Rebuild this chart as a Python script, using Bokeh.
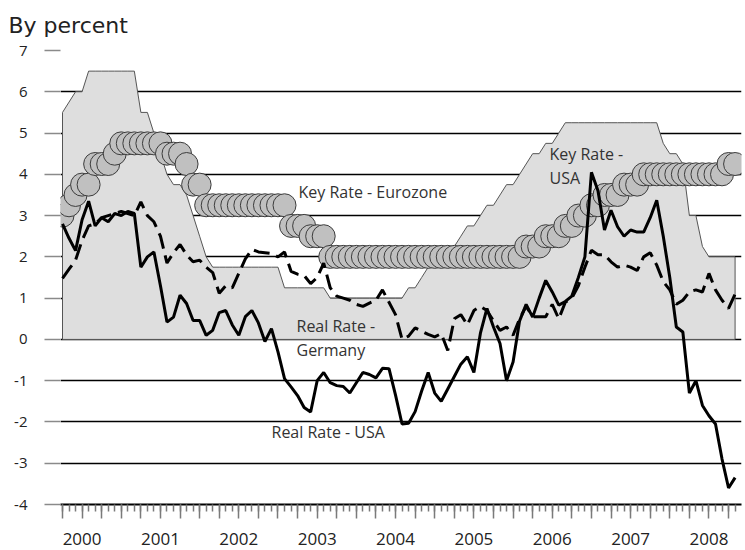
from bokeh.plotting import figure
from bokeh.models import Range1d, FixedTicker, Label
from bokeh.embed import file_html
from bokeh.resources import INLINE

# ---------------- data (monthly, Jan 2000 .. Aug 2008) ----------------
years = ["2000", "2001", "2002", "2003", "2004", "2005", "2006", "2007", "2008"]

key_rate_usa = [
    5.5, 5.75, 6.0, 6.0, 6.5, 6.5, 6.5, 6.5, 6.5, 6.5, 6.5, 6.5,            # 2000
    5.5, 5.5, 5.0, 4.5, 4.0, 3.75, 3.75, 3.5, 3.0, 2.5, 2.0, 1.75,          # 2001
    1.75, 1.75, 1.75, 1.75, 1.75, 1.75, 1.75, 1.75, 1.75, 1.75, 1.25, 1.25, # 2002
    1.25, 1.25, 1.25, 1.25, 1.25, 1.0, 1.0, 1.0, 1.0, 1.0, 1.0, 1.0,        # 2003
    1.0, 1.0, 1.0, 1.0, 1.0, 1.25, 1.25, 1.5, 1.75, 1.75, 2.0, 2.25,        # 2004
    2.25, 2.5, 2.75, 2.75, 3.0, 3.25, 3.25, 3.5, 3.75, 3.75, 4.0, 4.25,     # 2005
    4.5, 4.5, 4.75, 4.75, 5.0, 5.25, 5.25, 5.25, 5.25, 5.25, 5.25, 5.25,    # 2006
    5.25, 5.25, 5.25, 5.25, 5.25, 5.25, 5.25, 5.25, 4.75, 4.5, 4.5, 4.25,   # 2007
    3.0, 3.0, 2.25, 2.0, 2.0, 2.0, 2.0, 2.0,                                # 2008
]

key_rate_eurozone = [
    3.0, 3.25, 3.5, 3.75, 3.75, 4.25, 4.25, 4.25, 4.5, 4.75, 4.75, 4.75,    # 2000
    4.75, 4.75, 4.75, 4.75, 4.5, 4.5, 4.5, 4.25, 3.75, 3.75, 3.25, 3.25,    # 2001
    3.25, 3.25, 3.25, 3.25, 3.25, 3.25, 3.25, 3.25, 3.25, 3.25, 3.25, 2.75, # 2002
    2.75, 2.75, 2.5, 2.5, 2.5, 2.0, 2.0, 2.0, 2.0, 2.0, 2.0, 2.0,           # 2003
    2.0, 2.0, 2.0, 2.0, 2.0, 2.0, 2.0, 2.0, 2.0, 2.0, 2.0, 2.0,             # 2004
    2.0, 2.0, 2.0, 2.0, 2.0, 2.0, 2.0, 2.0, 2.0, 2.0, 2.0, 2.25,            # 2005
    2.25, 2.25, 2.5, 2.5, 2.5, 2.75, 2.75, 3.0, 3.0, 3.25, 3.25, 3.5,       # 2006
    3.5, 3.5, 3.75, 3.75, 3.75, 4.0, 4.0, 4.0, 4.0, 4.0, 4.0, 4.0,          # 2007
    4.0, 4.0, 4.0, 4.0, 4.0, 4.0, 4.25, 4.25,                               # 2008
]

real_rate_usa = [
    2.8, 2.45, 2.15, 2.9, 3.35, 2.75, 2.95, 2.85, 3.05, 3.0, 3.1, 3.05,         # 2000
    1.75, 2.0, 2.12, 1.3, 0.42, 0.54, 1.07, 0.87, 0.46, 0.46, 0.1, 0.22,        # 2001
    0.65, 0.7, 0.35, 0.1, 0.55, 0.7, 0.4, -0.05, 0.26, -0.3, -0.95, -1.15,      # 2002
    -1.36, -1.65, -1.76, -1.0, -0.8, -1.05, -1.12, -1.14, -1.3, -1.05, -0.8, -0.85,  # 2003
    -0.93, -0.7, -0.71, -1.35, -2.05, -2.03, -1.75, -1.25, -0.8, -1.3, -1.5, -1.2,   # 2004
    -0.9, -0.6, -0.42, -0.8, 0.15, 0.75, 0.3, -0.1, -1.0, -0.55, 0.45, 0.85,    # 2005
    0.54, 1.0, 1.43, 1.15, 0.83, 0.92, 1.05, 1.5, 2.0, 4.05, 3.6, 2.65,         # 2006
    3.13, 2.73, 2.5, 2.65, 2.6, 2.6, 2.95, 3.37, 2.5, 1.5, 0.3, 0.18,           # 2007
    -1.3, -1.0, -1.6, -1.85, -2.05, -2.9, -3.6, -3.35,                          # 2008
]

real_rate_germany = [
    1.48, 1.7, 1.92, 2.4, 2.75, 2.8, 2.95, 3.0, 3.05, 3.1, 3.05, 3.0,       # 2000
    3.33, 3.0, 2.85, 2.5, 1.85, 2.1, 2.3, 2.05, 1.88, 1.92, 1.75, 1.62,     # 2001
    1.12, 1.3, 1.25, 1.6, 1.95, 2.18, 2.12, 2.1, 2.08, 2.0, 2.12, 1.65,     # 2002
    1.58, 1.55, 1.35, 1.5, 1.85, 1.25, 1.05, 1.0, 0.95, 0.85, 0.8, 0.88,    # 2003
    0.95, 1.2, 0.9, 0.6, 0.0, 0.08, 0.28, 0.2, 0.12, 0.06, 0.14, -0.27,     # 2004
    0.5, 0.6, 0.35, 0.7, 0.8, 0.7, 0.45, 0.22, 0.3, 0.1, 0.5, 0.8,          # 2005
    0.55, 0.55, 0.55, 0.85, 0.5, 0.9, 1.0, 1.3, 1.75, 2.16, 2.05, 2.05,     # 2006
    1.88, 1.75, 1.8, 1.75, 1.67, 2.0, 2.1, 1.8, 1.4, 1.2, 0.85, 0.95,       # 2007
    1.15, 1.2, 1.15, 1.6, 1.2, 0.95, 0.75, 1.1,                             # 2008
]

y_ticks = [-4, -3, -2, -1, 0, 1, 2, 3, 4, 5, 6, 7]
y_tick_labels = ["-4", "-3", "-2", "-1", "0", "1", "2", "3", "4", "5", "6", "7"]

months = list(range(len(key_rate_usa)))

# ---------------- figure ----------------
PX_PER_MONTH = 6.53
FRAME_L, FRAME_R, FRAME_T, FRAME_B = 60, 741, 50, 504
x0 = -(62 - FRAME_L) / PX_PER_MONTH
p = figure(
    width=745, height=550,
    output_backend="svg", toolbar_location=None,
    x_range=Range1d(x0, x0 + (FRAME_R - FRAME_L) / PX_PER_MONTH),
    y_range=Range1d(-4, 7),
    min_border_left=FRAME_L, min_border_right=745 - FRAME_R,
    min_border_top=FRAME_T, min_border_bottom=550 - FRAME_B,
)
p.outline_line_color = None
p.background_fill_color = "white"
p.border_fill_color = "white"

# title
p.title.text = "By percent"
p.title.align = "left"
p.title.vertical_align = "top"
p.title.offset = -(FRAME_L - 8)
p.title.text_font = "DejaVu Sans"
p.title.text_font_size = "22px"
p.title.text_font_style = "normal"
p.title.text_color = "#222222"
p.title.standoff = 22

# grid
p.xgrid.visible = False
p.ygrid.ticker = FixedTicker(ticks=y_ticks)
p.ygrid.grid_line_color = "black"
p.ygrid.grid_line_width = 1.6

# y axis
yax = p.yaxis[0]
yax.ticker = FixedTicker(ticks=y_ticks)
yax.major_label_overrides = dict(zip(y_ticks, y_tick_labels))
yax.axis_line_color = None
yax.major_tick_out = 16
yax.major_tick_in = 0
yax.major_tick_line_color = "#8a8a8a"
yax.major_tick_line_width = 1.5
yax.minor_tick_line_color = None
yax.major_label_standoff = 17
yax.major_label_text_font = "Open Sans"
yax.major_label_text_font_size = "15px"
yax.major_label_text_color = "#222222"

# x axis: quarterly major ticks, monthly minor ticks, year labels
quarter_ticks = [m for m in months if m % 3 == 0]
label_ticks = [3 + 12 * k for k in range(len(years))]
overrides = {t: "" for t in quarter_ticks}
for t, yr in zip(label_ticks, years):
    overrides[t] = yr
xax = p.xaxis[0]
xax.ticker = FixedTicker(ticks=quarter_ticks, minor_ticks=months)
xax.major_label_overrides = overrides
xax.axis_line_color = "black"
xax.axis_line_width = 2.2
xax.major_tick_out = 14
xax.major_tick_in = 0
xax.minor_tick_out = 7
xax.minor_tick_in = 0
xax.major_tick_line_color = "#7a7a7a"
xax.minor_tick_line_color = "#7a7a7a"
xax.major_tick_line_width = 1.5
xax.minor_tick_line_width = 1.5
xax.major_label_standoff = 14
xax.major_label_text_line_height = 0.9
xax.major_label_text_font = "Open Sans"
xax.major_label_text_font_size = "17px"
xax.major_label_text_color = "#222222"

# gray area: key rate USA
area_x = [months[0]] + months + [months[-1]]
area_y = [0] + key_rate_usa + [0]
p.patch(area_x, area_y, fill_color="#dedede", line_color="#555555", line_width=1)

# circles: key rate Eurozone
p.scatter(months, key_rate_eurozone, size=23, fill_color="#c0c0c0",
          line_color="#3c3c3c", line_width=1)

# dashed: real rate Germany
p.line(months, real_rate_germany, line_color="black", line_width=3, line_dash="16 7")

# solid: real rate USA
p.line(months, real_rate_usa, line_color="black", line_width=3)

# ---------------- text ----------------
def data_x(px):
    return (px - 62) / PX_PER_MONTH

def data_y(py):
    return 7 - (py - FRAME_T) / ((FRAME_B - FRAME_T) / 11)

labels = [
    ("Key Rate - Eurozone", 298, 191),
    ("Real Rate -", 296, 325),
    ("Germany", 296, 349),
    ("Real Rate - USA", 271, 431),
    ("Key Rate -", 549, 153.5),
    ("USA", 549, 177),
]
for txt, px, py in labels:
    p.add_layout(Label(x=data_x(px), y=data_y(py), text=txt, text_font="Open Sans",
                       text_font_size="16px", text_color="#333333",
                       text_baseline="alphabetic", text_align="left"))

open("out.html", "w").write(file_html(p, INLINE))
